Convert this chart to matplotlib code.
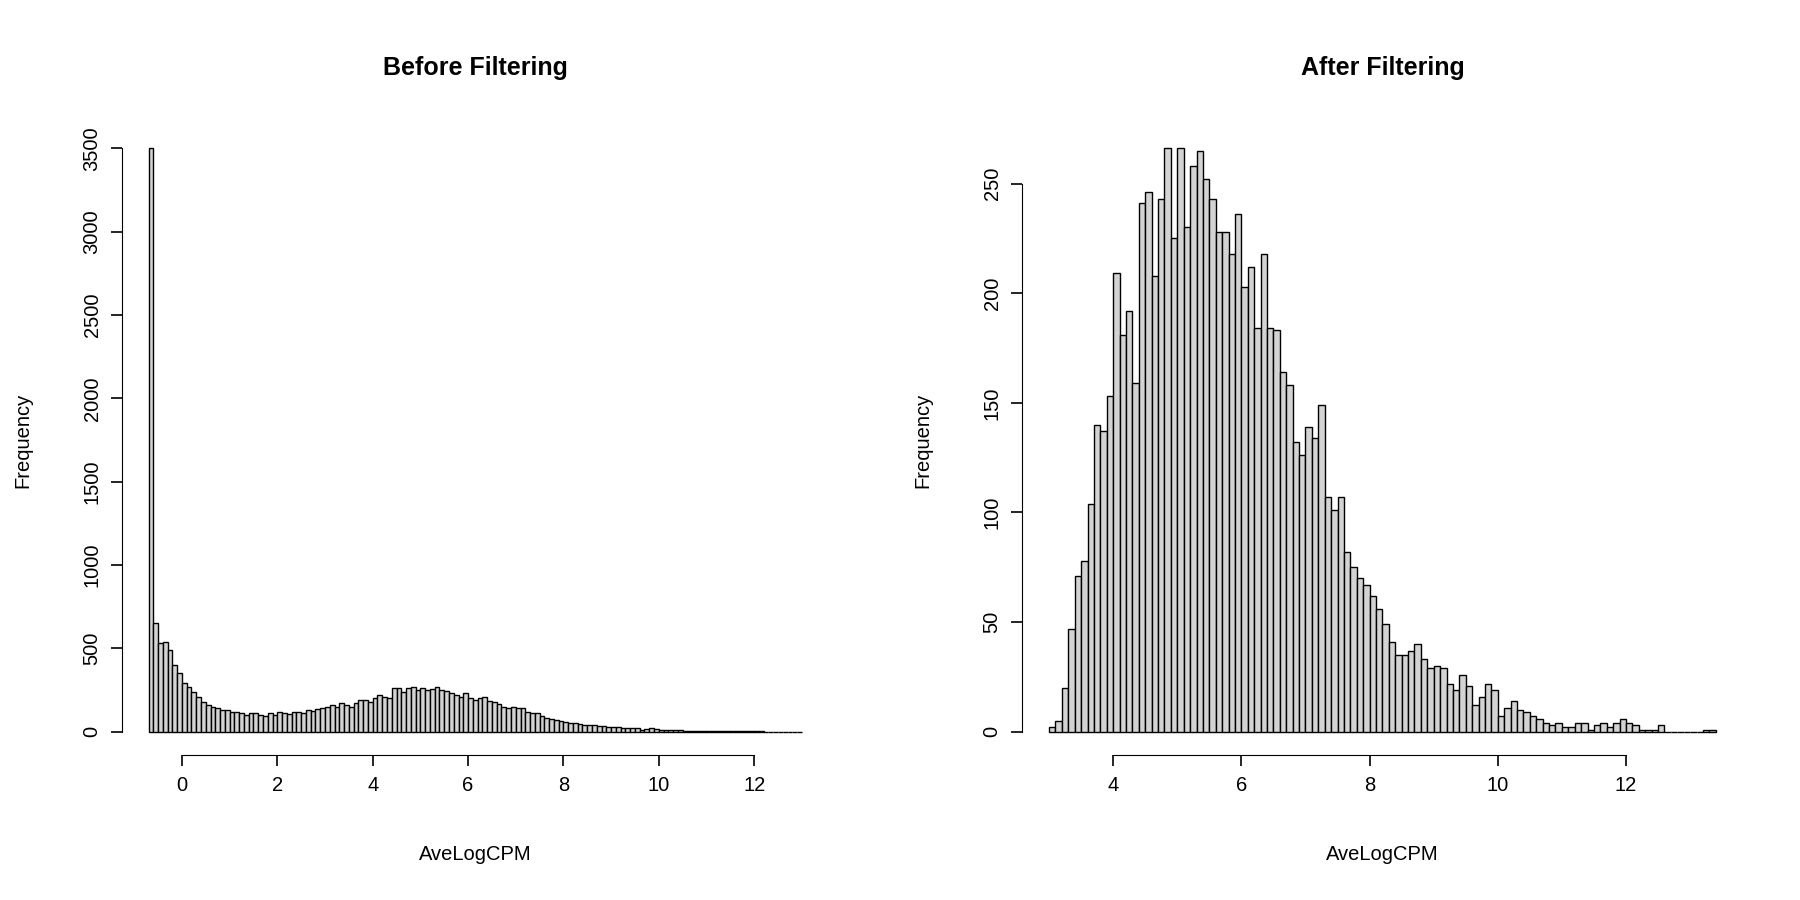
import numpy as np
import matplotlib
matplotlib.use("Agg")
import matplotlib.pyplot as plt

plt.rcParams["font.family"] = ["Liberation Sans", "DejaVu Sans"]

# Before filtering: bins of 0.1 starting at -0.7
before_start = -0.7
before_counts = [
    3500, 650, 530, 540, 490, 400, 350, 290, 270, 240, 210, 180, 160, 150, 140, 130,
    130, 120, 120, 110, 100, 110, 110, 100, 95, 110, 100, 120, 110, 105, 120, 120,
    115, 130, 125, 135, 140, 150, 160, 150, 170, 160, 150, 170, 190, 190, 180, 200,
    220, 210, 200, 260, 260, 240, 260, 270, 250, 260, 250, 255, 270, 250, 245, 230,
    220, 210, 230, 200, 190, 200, 210, 185, 180, 165, 150, 145, 150, 145, 140, 120,
    110, 115, 95, 80, 75, 70, 65, 60, 55, 50, 45, 40, 38, 40, 35, 32,
    30, 30, 28, 22, 20, 25, 20, 13, 16, 20, 18, 8, 11, 12, 9, 8,
    7, 6, 5, 4, 4, 3, 3, 4, 3, 4, 5, 3, 3, 2, 2, 2,
    3, 1, 1, 1, 1, 1, 1, 1, 1,
]

# After filtering: bins of 0.1 starting at 3.0
after_start = 3.0
after_counts = [
    2, 5, 20, 47, 71, 78, 104, 140, 137, 153, 209, 181, 192, 159, 241, 246,
    208, 243, 266, 225, 266, 230, 258, 265, 252, 243, 228, 228, 218, 236, 203, 212,
    184, 218, 184, 183, 164, 158, 132, 126, 139, 134, 149, 107, 101, 107, 82, 75,
    70, 67, 62, 56, 49, 41, 35, 35, 37, 40, 33, 29, 30, 29, 22, 19,
    26, 21, 12, 16, 22, 19, 7, 11, 14, 10, 9, 7, 6, 4, 3, 4,
    2, 2, 4, 4, 1, 3, 4, 2, 4, 6, 4, 3, 1, 1, 1, 3,
    0, 0, 0, 0, 0, 0, 1, 1,
]


def r_hist(ax, start, counts, title, yticks, xticks):
    edges = start + 0.1 * np.arange(len(counts) + 1)
    ax.bar(edges[:-1], counts, width=0.1, align="edge", color="#d3d3d3",
           edgecolor="black", linewidth=1.0)
    lo, hi = edges[0], edges[-1]
    pad = 0.04 * (hi - lo)
    ax.set_xlim(lo - pad, hi + pad)
    ymax = max(counts)
    ax.set_ylim(-0.04 * ymax, 1.04 * ymax)
    for s in ["top", "right"]:
        ax.spines[s].set_visible(False)
    ax.spines["left"].set_bounds(yticks[0], yticks[-1])
    ax.spines["bottom"].set_bounds(xticks[0], xticks[-1])
    ax.set_xticks(xticks)
    ax.set_yticks(yticks)
    ax.set_yticklabels([str(v) for v in yticks], rotation=90, va="center")
    ax.tick_params(labelsize=14.5, length=8, width=1.2, pad=7)
    ax.set_title(title, fontsize=18, fontweight="bold", pad=36)
    ax.set_xlabel("AveLogCPM", fontsize=14.5, labelpad=36)
    ax.set_ylabel("Frequency", fontsize=14.5, labelpad=36)


fig = plt.figure(figsize=(18, 9), dpi=100)
ax1 = fig.add_axes([0.068, 0.161, 0.392, 0.70])
ax2 = fig.add_axes([0.568, 0.161, 0.400, 0.70])

r_hist(ax1, before_start, before_counts, "Before Filtering",
       list(range(0, 3501, 500)), list(range(0, 13, 2)))
r_hist(ax2, after_start, after_counts, "After Filtering",
       list(range(0, 251, 50)), list(range(4, 13, 2)))

fig.savefig("out.png", dpi=100)
